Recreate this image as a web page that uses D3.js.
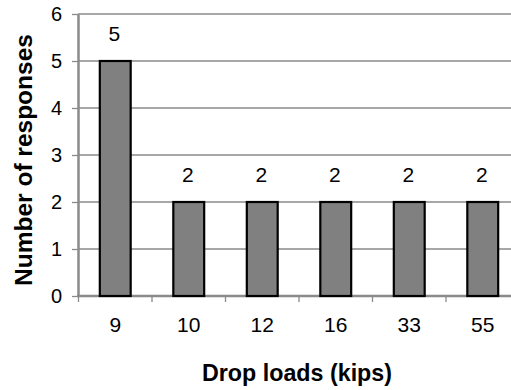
<!DOCTYPE html>
<html><head><meta charset="utf-8">
<script src="https://cdn.jsdelivr.net/npm/d3@7"></script>
<style>body{margin:0;background:#fff}svg{display:block}</style>
</head><body>
<svg id="c" width="511" height="390"></svg>
<script>
const categories = ["9","10","12","16","33","55"];
const values = [5,2,2,2,2,2];
const yTicks = [0,1,2,3,4,5,6];

const svg = d3.select("#c");
const x = d3.scaleBand().domain(categories).range([78.5,519.5]).paddingInner(0.58).paddingOuter(0.29);
const y = d3.scaleLinear().domain([0,6]).range([296,14]);
const font = "Arial, 'Liberation Sans', sans-serif";

// gridlines
svg.append("g").selectAll("line").data(yTicks.filter(d=>d>0)).join("line")
  .attr("x1",78).attr("x2",520).attr("y1",d=>y(d)).attr("y2",d=>y(d))
  .attr("stroke","#8a8a8a").attr("stroke-width",1.3);

// y axis
const ya = svg.append("g").attr("transform","translate(78,0)")
  .call(d3.axisLeft(y).tickValues(yTicks).tickFormat(d3.format("d")).tickSize(6).tickPadding(10).tickSizeOuter(0));
ya.select(".domain").attr("stroke","#8a8a8a").attr("stroke-width",2.5);
ya.selectAll(".tick line").attr("stroke","#8a8a8a").attr("stroke-width",1.3);
ya.selectAll("text").attr("font-family",font).attr("font-size",20).attr("fill","#000");

// x axis
const step = x.step();
const xa = svg.append("g").attr("transform","translate(0,296)")
  .call(d3.axisBottom(x).tickSize(0).tickPadding(21));
xa.select(".domain").remove();
xa.selectAll("text").attr("font-family",font).attr("font-size",21).attr("fill","#000");
svg.append("line").attr("x1",77).attr("x2",520).attr("y1",296).attr("y2",296)
  .attr("stroke","#8a8a8a").attr("stroke-width",2.5);
const bounds = d3.range(categories.length+1).map(i=>78.5+i*step);
svg.append("g").selectAll("line").data(bounds).join("line")
  .attr("x1",d=>d).attr("x2",d=>d).attr("y1",296).attr("y2",302)
  .attr("stroke","#8a8a8a").attr("stroke-width",1.3);

// bars
svg.append("g").selectAll("rect").data(values).join("rect")
  .attr("x",(d,i)=>x(categories[i])).attr("width",x.bandwidth())
  .attr("y",d=>y(d)).attr("height",d=>y(0)-y(d))
  .attr("fill","#808080").attr("stroke","#000").attr("stroke-width",2.2);

// value labels
svg.append("g").selectAll("text").data(values).join("text")
  .attr("x",(d,i)=>x(categories[i])+x.bandwidth()/2 - 1).attr("y",d=>y(d)-20)
  .attr("text-anchor","middle").attr("font-family",font).attr("font-size",21)
  .text(d=>d);

// axis titles
svg.append("text").attr("x",297).attr("y",381).attr("text-anchor","middle")
  .attr("font-family",font).attr("font-size",24).attr("font-weight","bold")
  .attr("textLength",190).attr("lengthAdjust","spacingAndGlyphs").text("Drop loads (kips)");
svg.append("text").attr("transform","translate(32,160) rotate(-90)").attr("text-anchor","middle")
  .attr("font-family",font).attr("font-size",24.5).attr("font-weight","bold").text("Number of responses");
</script>
</body></html>
